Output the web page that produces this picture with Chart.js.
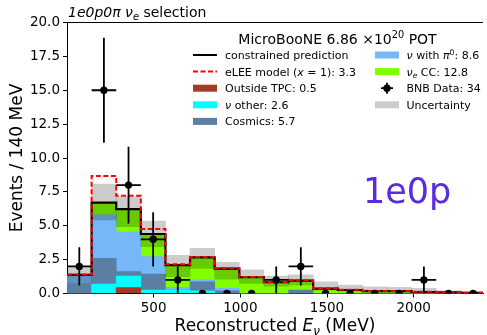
<!DOCTYPE html>
<html>
<head>
<meta charset="utf-8">
<script src="https://cdn.jsdelivr.net/npm/chart.js@4.4.0/dist/chart.umd.min.js"></script>
<style>
    body { margin: 0; background: #fff; }
</style>
</head>
<body>
<canvas id="chart" width="487" height="335"></canvas>
<script>
// -------- DATA -------- //

let binEdges = [0, 142, 284, 426, 568, 710, 852, 994, 1136, 1278, 1420, 1562, 1704, 1846, 1988, 2130, 2272, 2414];

let outsideTpc = [0, 0, 0.43, 0, 0, 0, 0, 0, 0, 0, 0, 0, 0, 0, 0, 0, 0];
let nuOther = [0, 0.70, 0.86, 0.26, 0.25, 0.20, 0, 0, 0, 0, 0, 0, 0, 0, 0, 0, 0];
let cosmics = [0.72, 1.90, 0.32, 1.18, 0, 0.67, 0.20, 0, 0, 0.26, 0, 0, 0, 0, 0, 0, 0];
let nuPi0 = [0.65, 3.20, 2.95, 1.28, 0.20, 0.13, 0.18, 0, 0, 0, 0, 0, 0, 0, 0, 0, 0];
let nueCC = [0, 0.91, 1.66, 1.67, 1.65, 1.67, 1.45, 1.20, 0.83, 0.69, 0.36, 0.26, 0.18, 0.18, 0.11, 0.08, 0.04];

let constrained = [1.37, 6.71, 6.22, 4.39, 2.10, 2.67, 1.83, 1.20, 0.83, 0.95, 0.36, 0.26, 0.18, 0.18, 0.11, 0.08, 0.04];
let eleeModel = [1.40, 8.68, 7.22, 4.76, 2.16, 2.70, 1.88, 1.22, 0.85, 0.97, 0.38, 0.27, 0.19, 0.19, 0.12, 0.09, 0.05];
let uncLow = [0.75, 5.43, 4.93, 3.46, 1.24, 1.86, 1.05, 0.75, 0.55, 0.63, 0.25, 0.15, 0.10, 0.10, 0.05, 0.03, 0.01];
let uncHigh = [1.98, 8.07, 7.15, 5.35, 2.82, 3.34, 2.30, 1.74, 1.29, 1.37, 0.87, 0.63, 0.50, 0.46, 0.38, 0.20, 0.10];

let bnbData = [2, 15, 8, 4, 1, 0, 0, 0, 1, 2, 0, 0, 0, 0, 1, 0, 0];
let bnbErr = [1.41, 3.87, 2.83, 2, 1, 0, 0, 0, 1, 1.41, 0, 0, 0, 0, 1, 0, 0];

let yTicks = [0, 2.5, 5, 7.5, 10, 12.5, 15, 17.5, 20];
let xTicks = [500, 1000, 1500, 2000];

let colors = {
    outside: '#a33b27',
    other: '#00ffff',
    cosmics: '#5a7fa2',
    pi0: '#75b7f7',
    nue: '#80ff00',
    band: 'rgba(0, 0, 0, 0.2)',
    lee: '#ff0000',
    pred: '#000000',
    label: '#5b2be3'
};

let FONT = '"DejaVu Sans"';


// -------- HELPERS -------- //

function centers() {
    let c = [];
    for (let i = 0; i < binEdges.length - 1; i++) {
        c.push((binEdges[i] + binEdges[i + 1]) / 2);
    }
    return c;
}

function barPoints(values) {
    let c = centers();
    return values.map((v, i) => ({ x: c[i], y: v }));
}

function stepPoints(values) {
    let pts = values.map((v, i) => ({ x: binEdges[i], y: v }));
    pts.push({ x: binEdges[binEdges.length - 1], y: values[values.length - 1] });
    return pts;
}

// parts: [text, style]  style: '' | 'i' | 'sub' | 'sup'
function richText(ctx, parts, x, y, size, draw) {
    let start = x;
    for (let part of parts) {
        let text = part[0];
        let style = part[1] || '';
        let fs = size;
        let dy = 0;
        let italic = style === 'i' || style === 'sub';
        if (style === 'sub') { fs = size * 0.7; dy = size * 0.22; }
        if (style === 'sup') { fs = size * 0.7; dy = -size * 0.38; }
        ctx.font = (italic ? 'italic ' : '') + fs + 'px ' + FONT;
        if (draw) ctx.fillText(text, x, y + dy);
        x += ctx.measureText(text).width;
    }
    return x - start;
}


// -------- LEGEND -------- //

let legendLeft = [
    { kind: 'line', color: colors.pred, text: [['constrained prediction']] },
    { kind: 'dash', color: colors.lee, text: [['eLEE model ('], ['x', 'i'], [' = 1): 3.3']] },
    { kind: 'patch', color: colors.outside, text: [['Outside TPC: 0.5']] },
    { kind: 'patch', color: colors.other, text: [['ν', 'i'], [' other: 2.6']] },
    { kind: 'patch', color: colors.cosmics, text: [['Cosmics: 5.7']] }
];

let legendRight = [
    { kind: 'patch', color: colors.pi0, text: [['ν', 'i'], [' with '], ['π', 'i'], ['0', 'sup'], [': 8.6']] },
    { kind: 'patch', color: colors.nue, text: [['ν', 'i'], ['e', 'sub'], [' CC: 12.8']] },
    { kind: 'data', color: '#000', text: [['BNB Data: 34']] },
    { kind: 'patch', color: '#cccccc', text: [['Uncertainty']] }
];

function drawLegendColumn(ctx, items, hx, tx, y0) {
    let rowH = 16.6;
    items.forEach((item, i) => {
        let cy = y0 + i * rowH;
        ctx.save();
        if (item.kind === 'patch') {
            ctx.fillStyle = item.color;
            ctx.fillRect(hx, cy - 3.5, 24, 7);
        } else if (item.kind === 'line' || item.kind === 'dash') {
            ctx.strokeStyle = item.color;
            ctx.lineWidth = 2;
            if (item.kind === 'dash') ctx.setLineDash([5, 2.5]);
            ctx.beginPath();
            ctx.moveTo(hx, cy);
            ctx.lineTo(hx + 24, cy);
            ctx.stroke();
        } else {
            ctx.strokeStyle = '#000';
            ctx.fillStyle = '#000';
            ctx.lineWidth = 1.8;
            ctx.beginPath();
            ctx.moveTo(hx + 6, cy);
            ctx.lineTo(hx + 18, cy);
            ctx.moveTo(hx + 12, cy - 5.5);
            ctx.lineTo(hx + 12, cy + 5.5);
            ctx.stroke();
            ctx.beginPath();
            ctx.arc(hx + 12, cy, 3.7, 0, Math.PI * 2);
            ctx.fill();
        }
        ctx.restore();
        ctx.fillStyle = '#000';
        richText(ctx, item.text, tx, cy + 4, 11, true);
    });
}


// -------- EXTRA DRAWING -------- //

let decorPlugin = {
    id: 'decor',
    afterDatasetsDraw(chart) {
        // error bars for the data points
        let ctx = chart.ctx;
        let xs = chart.scales.x;
        let ys = chart.scales.y2;
        ctx.save();
        ctx.beginPath();
        ctx.rect(chart.chartArea.left, chart.chartArea.top, chart.chartArea.width, chart.chartArea.height);
        ctx.clip();
        ctx.strokeStyle = '#000';
        ctx.lineWidth = 1.8;
        for (let i = 0; i < bnbData.length; i++) {
            if (bnbData[i] === 0) continue;
            let cx = xs.getPixelForValue((binEdges[i] + binEdges[i + 1]) / 2);
            let cy = ys.getPixelForValue(bnbData[i]);
            ctx.beginPath();
            ctx.moveTo(xs.getPixelForValue(binEdges[i]), cy);
            ctx.lineTo(xs.getPixelForValue(binEdges[i + 1]), cy);
            ctx.moveTo(cx, ys.getPixelForValue(bnbData[i] - bnbErr[i]));
            ctx.lineTo(cx, ys.getPixelForValue(bnbData[i] + bnbErr[i]));
            ctx.stroke();
        }
        ctx.restore();
    },
    afterDraw(chart) {
        let ctx = chart.ctx;
        let area = chart.chartArea;
        ctx.save();

        // top spine
        ctx.strokeStyle = '#000';
        ctx.lineWidth = 1;
        ctx.beginPath();
        ctx.moveTo(area.left, area.top);
        ctx.lineTo(area.right, area.top);
        ctx.stroke();

        ctx.fillStyle = '#000';
        ctx.textBaseline = 'alphabetic';

        // title
        richText(ctx, [['1e0p0π', 'i'], [' '], ['ν', 'i'], ['e', 'sub'], [' selection']], 68, 16.5, 14, true);

        // x label
        let xLabel = [['Reconstructed '], ['E', 'i'], ['ν', 'sub'], [' (MeV)']];
        let w = richText(ctx, xLabel, 0, 0, 17, false);
        richText(ctx, xLabel, (area.left + area.right) / 2 - w / 2, 331, 17, true);

        // legend
        let lTitle = [['MicroBooNE 6.86 ×10'], ['20', 'sup'], [' POT']];
        let tw = richText(ctx, lTitle, 0, 0, 14, false);
        richText(ctx, lTitle, 337.5 - tw / 2, 43.5, 14, true);
        drawLegendColumn(ctx, legendLeft, 193, 225, 55);
        drawLegendColumn(ctx, legendRight, 375, 406.5, 55);

        // channel label
        ctx.fillStyle = colors.label;
        ctx.font = '35px ' + FONT;
        ctx.fillText('1e0p', 363, 203);

        ctx.restore();
    }
};


// -------- CHART -------- //

// stacking goes from low order (bottom) to high order (top)
function stackSet(label, values, color, order) {
    return {
        type: 'bar',
        label: label,
        data: barPoints(values),
        backgroundColor: color,
        borderWidth: 0,
        grouped: false,
        barPercentage: 1,
        categoryPercentage: 1,
        yAxisID: 'y',
        order: order
    };
}

function init() {
    let ctx = document.getElementById('chart');

    new Chart(ctx, {
        type: 'bar',
        data: {
            datasets: [
                {
                    type: 'scatter',
                    label: 'BNB Data',
                    data: barPoints(bnbData),
                    pointRadius: 3.7,
                    pointBackgroundColor: '#000',
                    pointBorderWidth: 0,
                    yAxisID: 'y2',
                    order: 0
                },
                {
                    type: 'line',
                    label: 'eLEE model',
                    data: stepPoints(eleeModel),
                    stepped: true,
                    borderColor: colors.lee,
                    borderDash: [5, 2.5],
                    borderWidth: 2,
                    pointRadius: 0,
                    fill: false,
                    yAxisID: 'y2',
                    order: 1
                },
                {
                    type: 'line',
                    label: 'constrained prediction',
                    data: stepPoints(constrained),
                    stepped: true,
                    borderColor: colors.pred,
                    borderWidth: 2.2,
                    pointRadius: 0,
                    fill: false,
                    yAxisID: 'y2',
                    order: 2
                },
                {
                    type: 'bar',
                    label: 'Uncertainty',
                    data: uncLow.map((v, i) => ({ x: centers()[i], y: [v, uncHigh[i]] })),
                    backgroundColor: colors.band,
                    borderWidth: 0,
                    grouped: false,
                    barPercentage: 1,
                    categoryPercentage: 1,
                    yAxisID: 'y2',
                    order: 3
                },
                stackSet('Outside TPC', outsideTpc, colors.outside, 4),
                stackSet('ν other', nuOther, colors.other, 5),
                stackSet('Cosmics', cosmics, colors.cosmics, 6),
                stackSet('ν with π0', nuPi0, colors.pi0, 7),
                stackSet('νe CC', nueCC, colors.nue, 8)
            ]
        },
        options: {
            responsive: false,
            animation: false,
            layout: { padding: { top: 22.5, right: 0, left: 0, bottom: 0 } },
            plugins: {
                legend: { display: false },
                tooltip: { enabled: false }
            },
            scales: {
                x: {
                    type: 'linear',
                    min: 0,
                    max: 2400,
                    offset: false,
                    grid: { offset: false, drawOnChartArea: false, drawTicks: true, tickLength: 4, color: '#000' },
                    border: { color: '#000', width: 1 },
                    afterBuildTicks: (s) => { s.ticks = xTicks.map(v => ({ value: v })); },
                    ticks: {
                        font: { family: 'DejaVu Sans', size: 13.5 },
                        color: '#000',
                        padding: 3,
                        maxRotation: 0,
                        callback: (v) => String(v)
                    },
                    afterFit: (s) => { s.height = 41.5; }
                },
                y: {
                    type: 'linear',
                    stacked: true,
                    min: 0,
                    max: 20,
                    grid: { drawOnChartArea: false, drawTicks: true, tickLength: 4, color: '#000' },
                    border: { color: '#000', width: 1 },
                    afterBuildTicks: (s) => { s.ticks = yTicks.map(v => ({ value: v })); },
                    ticks: {
                        font: { family: 'DejaVu Sans', size: 13.5 },
                        color: '#000',
                        padding: 3,
                        callback: (v) => v.toFixed(1)
                    },
                    title: {
                        display: true,
                        text: 'Events / 140 MeV',
                        font: { family: 'DejaVu Sans', size: 17 },
                        color: '#000',
                        padding: { top: 7, bottom: 0 }
                    },
                    afterFit: (s) => { s.width = 67; }
                },
                y2: {
                    type: 'linear',
                    display: false,
                    min: 0,
                    max: 20
                }
            }
        },
        plugins: [decorPlugin]
    });
}

init();
</script>
</body>
</html>
